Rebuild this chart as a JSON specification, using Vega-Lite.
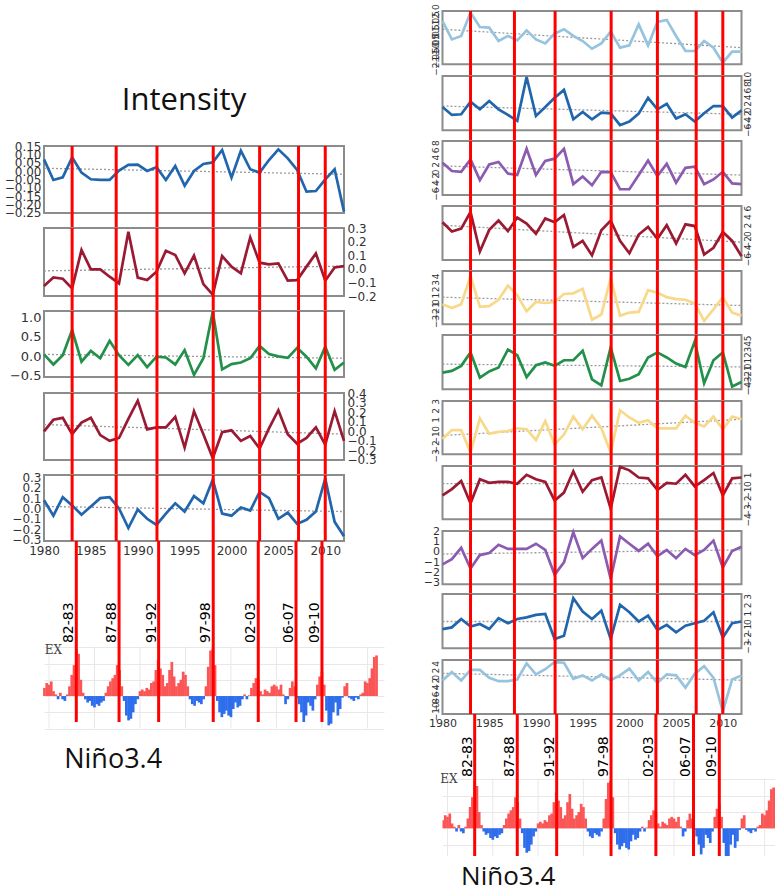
{
"$schema": "https://vega.github.io/schema/vega-lite/v6.json",
"padding": {"left": 4, "top": 3, "right": 0, "bottom": 0},
"autosize": {"type": "pad"},
"config": {"view": {"stroke": null}, "axis": {"labelFont": "DejaVu Sans", "labelColor": "#333333"}},
"datasets": {
"ev": [{"year":1983,"label":"82-83"},{"year":1987.7,"label":"87-88"},{"year":1992.05,"label":"91-92"},{"year":1998.05,"label":"97-98"},{"year":2003,"label":"02-03"},{"year":2007.15,"label":"06-07"},{"year":2010,"label":"09-10"}],
"gy": [{"year":1980},{"year":1985},{"year":1990},{"year":1995},{"year":2000},{"year":2005},{"year":2010},{"year":2015}],
"tr": [
{"year":1980,"L1":0.017,"L2":-0.015,"L3":0.05,"L4":0.07,"L5":0.02,"R1":0.63,"R2":1.2,"R3":1.6,"R4":2.0,"R5":0.7,"R6":0.3,"R7":-0.8,"R8":0.0,"R9":-0.2,"R10":0.0,"R11":1.1},
{"year":2012,"L1":-0.019,"L2":0.02,"L3":-0.05,"L4":-0.03,"L5":-0.03,"R1":-0.75,"R2":-1.3,"R3":-0.9,"R4":-2.0,"R5":-0.6,"R6":-0.2,"R7":1.0,"R8":0.0,"R9":0.2,"R10":0.0,"R11":-0.9}
],
"ts": [
{"year":1980,"L1":0.070,"L2":-0.126,"L3":0.05,"L4":0.0,"L5":0.08,"R1":1.25,"R2":0.9,"R3":2.5,"R4":2.7,"R5":-0.4,"R6":-1.2,"R7":-1.2,"R8":-1.3,"R9":-1.2,"R10":-0.9,"R11":-1.0},
{"year":1981,"L1":-0.053,"L2":-0.063,"L3":-0.21,"L4":0.12,"L5":-0.07,"R1":-0.13,"R2":-1.5,"R3":0.2,"R4":0.5,"R5":-1.0,"R6":-0.9,"R7":-0.2,"R8":-0.6,"R9":-0.7,"R10":-0.7,"R11":1.5},
{"year":1982,"L1":-0.037,"L2":-0.073,"L3":0.03,"L4":0.14,"L5":0.11,"R1":0.13,"R2":-1.3,"R3":0.0,"R4":1.2,"R5":-0.4,"R6":0.0,"R7":-0.2,"R8":0.3,"R9":0.4,"R10":0.3,"R11":-1.0},
{"year":1983,"L1":0.082,"L2":-0.144,"L3":0.68,"L4":-0.03,"L5":0.03,"R1":1.88,"R2":2.5,"R3":3.4,"R4":5.1,"R5":4.0,"R6":2.4,"R7":-2.7,"R8":-2.2,"R9":-1.6,"R10":-0.6,"R11":2.1},
{"year":1984,"L1":-0.009,"L2":0.138,"L3":-0.14,"L4":0.09,"L5":-0.06,"R1":0.8,"R2":0.2,"R3":-2.3,"R4":-4.2,"R5":-0.8,"R6":-2.1,"R7":1.1,"R8":0.5,"R9":-0.3,"R10":-0.3,"R11":2.1},
{"year":1985,"L1":-0.049,"L2":-0.004,"L3":0.14,"L4":0.14,"L5":0.02,"R1":0.75,"R2":2.7,"R3":2.0,"R4":0.9,"R5":-0.7,"R6":-1.0,"R7":-0.6,"R8":0.1,"R9":-0.1,"R10":-0.9,"R11":-0.2},
{"year":1986,"L1":-0.053,"L2":-0.004,"L3":-0.05,"L4":-0.04,"L5":0.10,"R1":-0.25,"R2":0.2,"R3":2.7,"R4":3.1,"R5":0.3,"R6":-0.3,"R7":-0.4,"R8":0.2,"R9":0.7,"R10":0.4,"R11":-1.2},
{"year":1987,"L1":-0.053,"L2":-0.058,"L3":0.40,"L4":-0.10,"L5":0.11,"R1":0.13,"R2":-1.5,"R3":-0.5,"R4":0.6,"R5":2.5,"R6":2.9,"R7":-0.3,"R8":0.2,"R9":0.3,"R10":-0.2,"R11":-1.2},
{"year":1988,"L1":0.003,"L2":-0.107,"L3":0.03,"L4":-0.07,"L5":0.0,"R1":-0.2,"R2":-3.3,"R3":-0.9,"R4":3.8,"R5":1.0,"R6":1.9,"R7":0.0,"R8":0.0,"R9":0.3,"R10":0.3,"R11":-0.7},
{"year":1989,"L1":0.037,"L2":0.273,"L3":-0.22,"L4":0.13,"L5":-0.19,"R1":0.55,"R2":10.0,"R3":6.3,"R4":2.4,"R5":-1.5,"R6":-2.0,"R7":-0.1,"R8":1.0,"R9":0.3,"R10":0.5,"R11":4.0},
{"year":1990,"L1":0.039,"L2":-0.065,"L3":0.03,"L4":0.32,"L5":-0.01,"R1":-0.13,"R2":-1.8,"R3":-0.9,"R4":0.0,"R5":-0.05,"R6":0.1,"R7":-1.3,"R8":0.5,"R9":0.8,"R10":0.8,"R11":0.8},
{"year":1991,"L1":0.001,"L2":-0.083,"L3":-0.28,"L4":0.02,"L5":-0.10,"R1":-0.43,"R2":0.9,"R3":3.0,"R4":3.6,"R5":-0.2,"R6":0.6,"R7":0.8,"R8":0.2,"R9":0.2,"R10":0.9,"R11":2.3},
{"year":1992,"L1":0.023,"L2":-0.021,"L3":-0.01,"L4":0.04,"L5":-0.16,"R1":0.3,"R2":3.7,"R3":3.6,"R4":2.7,"R5":-0.05,"R6":0.0,"R7":-1.8,"R8":-1.9,"R9":-2.2,"R10":-2.1,"R11":4.4},
{"year":1993,"L1":-0.053,"L2":0.133,"L3":-0.03,"L4":0.04,"L5":-0.05,"R1":0.63,"R2":6.1,"R3":6.3,"R4":4.4,"R5":1.2,"R6":1.0,"R7":-0.7,"R8":-1.0,"R9":-1.0,"R10":-1.7,"R11":4.2},
{"year":1994,"L1":0.031,"L2":0.102,"L3":-0.21,"L4":0.15,"L5":0.05,"R1":0.13,"R2":-2.8,"R3":-3.4,"R4":-3.1,"R5":1.3,"R6":1.0,"R7":1.3,"R8":1.4,"R9":1.9,"R10":2.8,"R11":-0.5},
{"year":1995,"L1":-0.087,"L2":-0.033,"L3":0.16,"L4":-0.17,"L5":-0.03,"R1":-0.25,"R2":-0.6,"R3":-1.3,"R4":-1.7,"R5":2.0,"R6":2.7,"R7":-0.1,"R8":-0.9,"R9":-0.6,"R10":1.2,"R11":0.5},
{"year":1996,"L1":0.001,"L2":0.097,"L3":-0.48,"L4":0.21,"L5":0.12,"R1":-0.83,"R2":-2.8,"R3":-3.7,"R4":-5.1,"R5":-2.8,"R6":-2.4,"R7":1.4,"R8":0.4,"R9":0.3,"R10":0.3,"R11":-1.0},
{"year":1997,"L1":0.043,"L2":-0.112,"L3":-0.05,"L4":-0.03,"L5":0.05,"R1":-0.43,"R2":-0.8,"R3":0.0,"R4":0.8,"R5":-2.0,"R6":-3.5,"R7":0.0,"R8":0.7,"R9":1.1,"R10":1.3,"R11":0.8},
{"year":1998,"L1":0.052,"L2":-0.190,"L3":1.15,"L4":-0.28,"L5":0.28,"R1":0.45,"R2":-1.0,"R3":-0.1,"R4":3.1,"R5":3.7,"R6":3.3,"R7":-2.7,"R8":-2.8,"R9":-2.6,"R10":-2.1,"R11":-0.9},
{"year":1999,"L1":0.126,"L2":0.094,"L3":-0.34,"L4":-0.01,"L5":-0.05,"R1":-0.75,"R2":-4.6,"R3":-4.8,"R4":-1.7,"R5":-2.2,"R6":-2.7,"R7":2.0,"R8":1.9,"R9":1.5,"R10":2.0,"R11":0.5},
{"year":2000,"L1":-0.039,"L2":0.016,"L3":-0.20,"L4":0.01,"L5":-0.07,"R1":-0.58,"R2":-3.5,"R3":-4.8,"R4":-4.6,"R5":-1.7,"R6":-2.3,"R7":1.2,"R8":1.5,"R9":0.8,"R10":1.1,"R11":2.5},
{"year":2001,"L1":0.122,"L2":-0.033,"L3":-0.16,"L4":-0.10,"L5":0.01,"R1":1.0,"R2":-1.1,"R3":-0.9,"R4":-0.2,"R5":-1.6,"R6":-1.5,"R7":0.6,"R8":0.7,"R9":0.1,"R10":0.0,"R11":-1.0},
{"year":2002,"L1":0.011,"L2":0.231,"L3":-0.05,"L4":-0.05,"L5":-0.02,"R1":-0.58,"R2":3.7,"R3":3.1,"R4":1.6,"R5":1.8,"R6":1.5,"R7":0.9,"R8":0.6,"R9":0.8,"R10":0.7,"R11":1.5},
{"year":2003,"L1":-0.009,"L2":0.045,"L3":0.27,"L4":-0.18,"L5":0.16,"R1":1.18,"R2":0.2,"R3":-1.2,"R4":-1.2,"R5":1.4,"R6":2.4,"R7":0.0,"R8":-0.7,"R9":-0.4,"R10":-1.0,"R11":-1.7},
{"year":2004,"L1":0.066,"L2":0.033,"L3":0.06,"L4":0.03,"L5":0.10,"R1":1.33,"R2":1.9,"R3":2.2,"R4":2.0,"R5":0.7,"R6":1.5,"R7":0.0,"R8":0.1,"R9":0.2,"R10":-0.4,"R11":0.8},
{"year":2005,"L1":0.130,"L2":0.040,"L3":0.0,"L4":0.22,"L5":-0.10,"R1":0.13,"R2":-2.6,"R3":-3.0,"R4":-2.3,"R5":0.4,"R6":0.4,"R7":0.0,"R8":0.0,"R9":-0.6,"R10":-1.3,"R11":0.5},
{"year":2006,"L1":0.076,"L2":-0.087,"L3":-0.04,"L4":-0.03,"L5":-0.04,"R1":-1.0,"R2":-1.3,"R3":1.1,"R4":2.2,"R5":0.3,"R6":-0.2,"R7":1.4,"R8":1.0,"R9":0.3,"R10":-0.5,"R11":-3.1},
{"year":2007,"L1":0.007,"L2":-0.083,"L3":0.22,"L4":-0.13,"L5":-0.15,"R1":-1.0,"R2":-3.5,"R3":1.4,"R4":1.8,"R5":-0.3,"R6":4.4,"R7":0.6,"R8":-0.3,"R9":-0.3,"R10":-0.2,"R11":1.0},
{"year":2008,"L1":-0.123,"L2":0.016,"L3":-0.01,"L4":-0.07,"L5":-0.11,"R1":-0.25,"R2":-1.0,"R3":-3.4,"R4":-4.9,"R5":-3.0,"R6":-3.1,"R7":0.2,"R8":0.4,"R9":0.2,"R10":0.1,"R11":3.2},
{"year":2009,"L1":-0.119,"L2":0.113,"L3":-0.31,"L4":0.04,"L5":-0.03,"R1":-0.75,"R2":1.2,"R3":-2.1,"R4":-3.3,"R5":-1.2,"R6":1.0,"R7":1.3,"R8":1.2,"R9":1.1,"R10":1.1,"R11":-0.2},
{"year":2010,"L1":-0.049,"L2":-0.087,"L3":0.25,"L4":-0.14,"L5":0.29,"R1":-1.88,"R2":1.2,"R3":0.0,"R4":0.4,"R5":0.7,"R6":2.4,"R7":-0.1,"R8":-1.3,"R9":-1.5,"R10":-1.9,"R11":-10.0},
{"year":2011,"L1":0.011,"L2":0.010,"L3":-0.35,"L4":0.21,"L5":-0.13,"R1":-1.05,"R2":-2.3,"R3":-3.2,"R4":-1.7,"R5":-1.7,"R6":-3.7,"R7":1.3,"R8":0.6,"R9":0.1,"R10":-0.2,"R11":-0.7},
{"year":2012,"L1":-0.242,"L2":0.020,"L3":-0.16,"L4":-0.10,"L5":-0.27,"R1":-1.05,"R2":-0.1,"R3":-3.4,"R4":-5.3,"R5":-2.2,"R6":-2.9,"R7":1.0,"R8":0.7,"R9":0.5,"R10":0.0,"R11":0.5}
],
"nino": [
{"year":1979.5,"v":0.5},{"year":1979.75,"v":0.8},{"year":1980,"v":0.7},{"year":1980.25,"v":0.9},{"year":1980.5,"v":0.3},{"year":1980.75,"v":0.1},
{"year":1981,"v":-0.2},{"year":1981.25,"v":0.2},{"year":1981.5,"v":-0.2},{"year":1981.75,"v":-0.3},
{"year":1982,"v":0.1},{"year":1982.25,"v":0.6},{"year":1982.5,"v":1.3},{"year":1982.75,"v":1.9},
{"year":1983,"v":2.9},{"year":1983.25,"v":2.6},{"year":1983.5,"v":1.0},{"year":1983.75,"v":0.2},
{"year":1984,"v":-0.2},{"year":1984.25,"v":-0.4},{"year":1984.5,"v":-0.3},{"year":1984.75,"v":-0.6},
{"year":1985,"v":-0.7},{"year":1985.25,"v":-0.5},{"year":1985.5,"v":-0.6},{"year":1985.75,"v":-0.4},
{"year":1986,"v":-0.3},{"year":1986.25,"v":0.2},{"year":1986.5,"v":0.6},{"year":1986.75,"v":0.9},
{"year":1987,"v":1.1},{"year":1987.25,"v":1.3},{"year":1987.5,"v":1.9},{"year":1987.75,"v":1.6},
{"year":1988,"v":0.6},{"year":1988.25,"v":-0.3},{"year":1988.5,"v":-1.2},{"year":1988.75,"v":-1.5},
{"year":1989,"v":-1.4},{"year":1989.25,"v":-1.0},{"year":1989.5,"v":-0.5},{"year":1989.75,"v":-0.2},
{"year":1990,"v":0.3},{"year":1990.25,"v":0.4},{"year":1990.5,"v":0.3},{"year":1990.75,"v":0.5},
{"year":1991,"v":0.4},{"year":1991.25,"v":0.8},{"year":1991.5,"v":0.9},{"year":1991.75,"v":1.6},
{"year":1992,"v":2.2},{"year":1992.25,"v":1.7},{"year":1992.5,"v":1.3},{"year":1992.75,"v":0.6},
{"year":1993,"v":0.8},{"year":1993.25,"v":1.6},{"year":1993.5,"v":2.1},{"year":1993.75,"v":1.2},
{"year":1994,"v":0.6},{"year":1994.25,"v":0.8},{"year":1994.5,"v":1.0},{"year":1994.75,"v":1.5},
{"year":1995,"v":1.3},{"year":1995.25,"v":0.6},{"year":1995.5,"v":-0.2},{"year":1995.75,"v":-0.5},
{"year":1996,"v":-0.6},{"year":1996.25,"v":-0.3},{"year":1996.5,"v":-0.4},{"year":1996.75,"v":-0.5},
{"year":1997,"v":-0.2},{"year":1997.25,"v":0.6},{"year":1997.5,"v":1.8},{"year":1997.75,"v":2.8},
{"year":1998,"v":2.9},{"year":1998.25,"v":1.9},{"year":1998.5,"v":-0.3},{"year":1998.75,"v":-1.0},
{"year":1999,"v":-1.3},{"year":1999.25,"v":-1.1},{"year":1999.5,"v":-0.9},{"year":1999.75,"v":-1.2},
{"year":2000,"v":-1.3},{"year":2000.25,"v":-0.8},{"year":2000.5,"v":-0.4},{"year":2000.75,"v":-0.7},
{"year":2001,"v":-0.6},{"year":2001.25,"v":-0.2},{"year":2001.5,"v":0.1},{"year":2001.75,"v":-0.2},
{"year":2002,"v":0.05},{"year":2002.25,"v":0.5},{"year":2002.5,"v":0.8},{"year":2002.75,"v":1.1},
{"year":2003,"v":1.0},{"year":2003.25,"v":0.3},{"year":2003.5,"v":0.1},{"year":2003.75,"v":0.4},
{"year":2004,"v":0.3},{"year":2004.25,"v":0.2},{"year":2004.5,"v":0.6},{"year":2004.75,"v":0.7},
{"year":2005,"v":0.6},{"year":2005.25,"v":0.4},{"year":2005.5,"v":0.7},{"year":2005.75,"v":0.1},
{"year":2006,"v":-0.5},{"year":2006.25,"v":-0.2},{"year":2006.5,"v":0.5},{"year":2006.75,"v":0.9},
{"year":2007,"v":0.6},{"year":2007.25,"v":-0.1},{"year":2007.5,"v":-0.5},{"year":2007.75,"v":-1.0},
{"year":2008,"v":-1.6},{"year":2008.25,"v":-1.2},{"year":2008.5,"v":-0.4},{"year":2008.75,"v":-0.6},
{"year":2009,"v":-0.9},{"year":2009.25,"v":-0.2},{"year":2009.5,"v":0.7},{"year":2009.75,"v":1.2},
{"year":2010,"v":1.5},{"year":2010.25,"v":0.7},{"year":2010.5,"v":-0.9},{"year":2010.75,"v":-1.8},
{"year":2011,"v":-1.7},{"year":2011.25,"v":-1.0},{"year":2011.5,"v":-0.4},{"year":2011.75,"v":-1.2},
{"year":2012,"v":-0.8},{"year":2012.25,"v":-0.1},{"year":2012.5,"v":0.6},{"year":2012.75,"v":0.8},
{"year":2013,"v":-0.1},{"year":2013.25,"v":-0.2},{"year":2013.5,"v":-0.3},{"year":2013.75,"v":-0.1},
{"year":2014,"v":-0.2},{"year":2014.25,"v":0.1},{"year":2014.5,"v":0.2},{"year":2014.75,"v":0.9},
{"year":2015,"v":0.8},{"year":2015.25,"v":1.1},{"year":2015.5,"v":1.7},{"year":2015.75,"v":2.4},{"year":2016,"v":2.5}
]
},
"spacing": 38.5,
"hconcat": [
{
"spacing": 0,
"bounds": "flush",
"vconcat": [
{"width": 300, "height": 135, "data": {"values": [{"t": "Intensity"}]},
 "mark": {"type": "text", "font": "Open Sans", "fontSize": 31, "baseline": "alphabetic", "dx": -10, "dy": 31.5, "color": "#111111"},
 "encoding": {"text": {"field": "t"}}},
{"width": 300, "height": 82, "layer": [
 {"data": {"values": [{"year": 1980}]}, "mark": {"type": "rect", "fillOpacity": 0, "stroke": "#8c8c8c", "strokeWidth": 2},
  "encoding": {"x": {"datum": 1980, "type": "quantitative", "scale": {"domain": [1980, 2012], "nice": false}, "axis": null}, "x2": {"datum": 2012},
   "y": {"datum": 0.15, "type": "quantitative", "scale": {"domain": [-0.34, 0.15], "nice": false, "zero": false}, "axis": {"orient": "left", "values": [0.15, 0.1, 0.05, 0, -0.05, -0.1, -0.15, -0.2, -0.25], "format": ".2f", "title": null, "domain": false, "ticks": false, "grid": false, "labelFontSize": 12, "labelPadding": 3, "labelOverlap": false, "labelFlush": false, "labelBound": false}}, "y2": {"datum": -0.25}}},
 {"data": {"name": "tr"}, "mark": {"type": "line", "stroke": "#9a9a9a", "strokeDash": [2, 2], "strokeWidth": 1.3},
  "encoding": {"x": {"field": "year", "type": "quantitative", "scale": {"domain": [1980, 2012], "nice": false}, "axis": null},
   "y": {"field": "L1", "type": "quantitative", "scale": {"domain": [-0.34, 0.15], "nice": false, "zero": false}, "axis": {"orient": "left", "values": [0.15, 0.1, 0.05, 0, -0.05, -0.1, -0.15, -0.2, -0.25], "format": ".2f", "title": null, "domain": false, "ticks": false, "grid": false, "labelFontSize": 12, "labelPadding": 3, "labelOverlap": false, "labelFlush": false, "labelBound": false}}}},
 {"data": {"name": "ts"}, "mark": {"type": "line", "stroke": "#2166ac", "strokeWidth": 2.7},
  "encoding": {"x": {"field": "year", "type": "quantitative", "scale": {"domain": [1980, 2012], "nice": false}, "axis": null},
   "y": {"field": "L1", "type": "quantitative", "scale": {"domain": [-0.34, 0.15], "nice": false, "zero": false}, "axis": {"orient": "left", "values": [0.15, 0.1, 0.05, 0, -0.05, -0.1, -0.15, -0.2, -0.25], "format": ".2f", "title": null, "domain": false, "ticks": false, "grid": false, "labelFontSize": 12, "labelPadding": 3, "labelOverlap": false, "labelFlush": false, "labelBound": false}}}},
 {"data": {"name": "ev"}, "mark": {"type": "rule", "stroke": "#ff0000", "strokeWidth": 3},
  "encoding": {"x": {"field": "year", "type": "quantitative", "scale": {"domain": [1980, 2012], "nice": false}, "axis": null}}}
]},
{"width": 300, "height": 83, "layer": [
 {"data": {"values": [{"year": 1980}]}, "mark": {"type": "rect", "fillOpacity": 0, "stroke": "#8c8c8c", "strokeWidth": 2},
  "encoding": {"x": {"datum": 1980, "type": "quantitative", "scale": {"domain": [1980, 2012], "nice": false}, "axis": null}, "x2": {"datum": 2012},
   "y": {"datum": 0.3, "type": "quantitative", "scale": {"domain": [-0.31, 0.3], "nice": false, "zero": false}, "axis": {"orient": "right", "values": [0.3, 0.2, 0.1, 0, -0.1, -0.2], "format": ".1f", "title": null, "domain": false, "ticks": false, "grid": false, "labelFontSize": 12, "labelPadding": 3, "labelOverlap": false, "labelFlush": false, "labelBound": false}}, "y2": {"datum": -0.2}}},
 {"data": {"name": "tr"}, "mark": {"type": "line", "stroke": "#9a9a9a", "strokeDash": [2, 2], "strokeWidth": 1.3},
  "encoding": {"x": {"field": "year", "type": "quantitative", "scale": {"domain": [1980, 2012], "nice": false}, "axis": null},
   "y": {"field": "L2", "type": "quantitative", "scale": {"domain": [-0.31, 0.3], "nice": false, "zero": false}, "axis": {"orient": "right", "values": [0.3, 0.2, 0.1, 0, -0.1, -0.2], "format": ".1f", "title": null, "domain": false, "ticks": false, "grid": false, "labelFontSize": 12, "labelPadding": 3, "labelOverlap": false, "labelFlush": false, "labelBound": false}}}},
 {"data": {"name": "ts"}, "mark": {"type": "line", "stroke": "#9b1a33", "strokeWidth": 2.7},
  "encoding": {"x": {"field": "year", "type": "quantitative", "scale": {"domain": [1980, 2012], "nice": false}, "axis": null},
   "y": {"field": "L2", "type": "quantitative", "scale": {"domain": [-0.31, 0.3], "nice": false, "zero": false}, "axis": {"orient": "right", "values": [0.3, 0.2, 0.1, 0, -0.1, -0.2], "format": ".1f", "title": null, "domain": false, "ticks": false, "grid": false, "labelFontSize": 12, "labelPadding": 3, "labelOverlap": false, "labelFlush": false, "labelBound": false}}}},
 {"data": {"name": "ev"}, "mark": {"type": "rule", "stroke": "#ff0000", "strokeWidth": 3},
  "encoding": {"x": {"field": "year", "type": "quantitative", "scale": {"domain": [1980, 2012], "nice": false}, "axis": null}}}
]},
{"width": 300, "height": 82, "layer": [
 {"data": {"values": [{"year": 1980}]}, "mark": {"type": "rect", "fillOpacity": 0, "stroke": "#8c8c8c", "strokeWidth": 2},
  "encoding": {"x": {"datum": 1980, "type": "quantitative", "scale": {"domain": [1980, 2012], "nice": false}, "axis": null}, "x2": {"datum": 2012},
   "y": {"datum": 1.171, "type": "quantitative", "scale": {"domain": [-0.948, 1.171], "nice": false, "zero": false}, "axis": {"orient": "left", "values": [1.0, 0.5, 0, -0.5], "format": ".1f", "title": null, "domain": false, "ticks": false, "grid": false, "labelFontSize": 13, "labelPadding": 3, "labelOverlap": false, "labelFlush": false, "labelBound": false}}, "y2": {"datum": -0.535}}},
 {"data": {"name": "tr"}, "mark": {"type": "line", "stroke": "#9a9a9a", "strokeDash": [2, 2], "strokeWidth": 1.3},
  "encoding": {"x": {"field": "year", "type": "quantitative", "scale": {"domain": [1980, 2012], "nice": false}, "axis": null},
   "y": {"field": "L3", "type": "quantitative", "scale": {"domain": [-0.948, 1.171], "nice": false, "zero": false}, "axis": {"orient": "left", "values": [1.0, 0.5, 0, -0.5], "format": ".1f", "title": null, "domain": false, "ticks": false, "grid": false, "labelFontSize": 13, "labelPadding": 3, "labelOverlap": false, "labelFlush": false, "labelBound": false}}}},
 {"data": {"name": "ts"}, "mark": {"type": "line", "stroke": "#23904a", "strokeWidth": 2.7},
  "encoding": {"x": {"field": "year", "type": "quantitative", "scale": {"domain": [1980, 2012], "nice": false}, "axis": null},
   "y": {"field": "L3", "type": "quantitative", "scale": {"domain": [-0.948, 1.171], "nice": false, "zero": false}, "axis": {"orient": "left", "values": [1.0, 0.5, 0, -0.5], "format": ".1f", "title": null, "domain": false, "ticks": false, "grid": false, "labelFontSize": 13, "labelPadding": 3, "labelOverlap": false, "labelFlush": false, "labelBound": false}}}},
 {"data": {"name": "ev"}, "mark": {"type": "rule", "stroke": "#ff0000", "strokeWidth": 3},
  "encoding": {"x": {"field": "year", "type": "quantitative", "scale": {"domain": [1980, 2012], "nice": false}, "axis": null}}}
]},
{"width": 300, "height": 82, "layer": [
 {"data": {"values": [{"year": 1980}]}, "mark": {"type": "rect", "fillOpacity": 0, "stroke": "#8c8c8c", "strokeWidth": 2},
  "encoding": {"x": {"datum": 1980, "type": "quantitative", "scale": {"domain": [1980, 2012], "nice": false}, "axis": null}, "x2": {"datum": 2012},
   "y": {"datum": 0.4, "type": "quantitative", "scale": {"domain": [-0.457, 0.4], "nice": false, "zero": false}, "axis": {"orient": "right", "values": [0.4, 0.3, 0.2, 0.1, 0, -0.1, -0.2, -0.3], "format": ".1f", "title": null, "domain": false, "ticks": false, "grid": false, "labelFontSize": 12, "labelPadding": 3, "labelOverlap": false, "labelFlush": false, "labelBound": false}}, "y2": {"datum": -0.3}}},
 {"data": {"name": "tr"}, "mark": {"type": "line", "stroke": "#9a9a9a", "strokeDash": [2, 2], "strokeWidth": 1.3},
  "encoding": {"x": {"field": "year", "type": "quantitative", "scale": {"domain": [1980, 2012], "nice": false}, "axis": null},
   "y": {"field": "L4", "type": "quantitative", "scale": {"domain": [-0.457, 0.4], "nice": false, "zero": false}, "axis": {"orient": "right", "values": [0.4, 0.3, 0.2, 0.1, 0, -0.1, -0.2, -0.3], "format": ".1f", "title": null, "domain": false, "ticks": false, "grid": false, "labelFontSize": 12, "labelPadding": 3, "labelOverlap": false, "labelFlush": false, "labelBound": false}}}},
 {"data": {"name": "ts"}, "mark": {"type": "line", "stroke": "#9b1a33", "strokeWidth": 2.7},
  "encoding": {"x": {"field": "year", "type": "quantitative", "scale": {"domain": [1980, 2012], "nice": false}, "axis": null},
   "y": {"field": "L4", "type": "quantitative", "scale": {"domain": [-0.457, 0.4], "nice": false, "zero": false}, "axis": {"orient": "right", "values": [0.4, 0.3, 0.2, 0.1, 0, -0.1, -0.2, -0.3], "format": ".1f", "title": null, "domain": false, "ticks": false, "grid": false, "labelFontSize": 12, "labelPadding": 3, "labelOverlap": false, "labelFlush": false, "labelBound": false}}}},
 {"data": {"name": "ev"}, "mark": {"type": "rule", "stroke": "#ff0000", "strokeWidth": 3},
  "encoding": {"x": {"field": "year", "type": "quantitative", "scale": {"domain": [1980, 2012], "nice": false}, "axis": null}}}
]},
{"width": 300, "height": 66, "layer": [
 {"data": {"values": [{"year": 1980}]}, "mark": {"type": "rect", "fillOpacity": 0, "stroke": "#8c8c8c", "strokeWidth": 2},
  "encoding": {"x": {"datum": 1980, "type": "quantitative", "scale": {"domain": [1980, 2012], "nice": false}, "axis": {"values": [1980, 1985, 1990, 1995, 2000, 2005, 2010], "format": "d", "title": null, "domain": false, "ticks": false, "grid": false, "labelFontSize": 12, "labelPadding": 4, "labelFlush": false, "labelOverlap": false}}, "x2": {"datum": 2012},
   "y": {"datum": 0.325, "type": "quantitative", "scale": {"domain": [-0.316, 0.325], "nice": false, "zero": false}, "axis": {"orient": "left", "values": [0.3, 0.2, 0.1, 0, -0.1, -0.2, -0.3], "format": ".1f", "title": null, "domain": false, "ticks": false, "grid": false, "labelFontSize": 12, "labelPadding": 3, "labelOverlap": false, "labelFlush": false, "labelBound": false}}, "y2": {"datum": -0.316}}},
 {"data": {"name": "tr"}, "mark": {"type": "line", "stroke": "#9a9a9a", "strokeDash": [2, 2], "strokeWidth": 1.3},
  "encoding": {"x": {"field": "year", "type": "quantitative", "scale": {"domain": [1980, 2012], "nice": false}, "axis": {"values": [1980, 1985, 1990, 1995, 2000, 2005, 2010], "format": "d", "title": null, "domain": false, "ticks": false, "grid": false, "labelFontSize": 12, "labelPadding": 4, "labelFlush": false, "labelOverlap": false}},
   "y": {"field": "L5", "type": "quantitative", "scale": {"domain": [-0.316, 0.325], "nice": false, "zero": false}, "axis": {"orient": "left", "values": [0.3, 0.2, 0.1, 0, -0.1, -0.2, -0.3], "format": ".1f", "title": null, "domain": false, "ticks": false, "grid": false, "labelFontSize": 12, "labelPadding": 3, "labelOverlap": false, "labelFlush": false, "labelBound": false}}}},
 {"data": {"name": "ts"}, "mark": {"type": "line", "stroke": "#2166ac", "strokeWidth": 2.7},
  "encoding": {"x": {"field": "year", "type": "quantitative", "scale": {"domain": [1980, 2012], "nice": false}, "axis": {"values": [1980, 1985, 1990, 1995, 2000, 2005, 2010], "format": "d", "title": null, "domain": false, "ticks": false, "grid": false, "labelFontSize": 12, "labelPadding": 4, "labelFlush": false, "labelOverlap": false}},
   "y": {"field": "L5", "type": "quantitative", "scale": {"domain": [-0.316, 0.325], "nice": false, "zero": false}, "axis": {"orient": "left", "values": [0.3, 0.2, 0.1, 0, -0.1, -0.2, -0.3], "format": ".1f", "title": null, "domain": false, "ticks": false, "grid": false, "labelFontSize": 12, "labelPadding": 3, "labelOverlap": false, "labelFlush": false, "labelBound": false}}}},
 {"data": {"name": "ev"}, "mark": {"type": "rule", "stroke": "#ff0000", "strokeWidth": 3},
  "encoding": {"x": {"field": "year", "type": "quantitative", "scale": {"domain": [1980, 2012], "nice": false}, "axis": {"values": [1980, 1985, 1990, 1995, 2000, 2005, 2010], "format": "d", "title": null, "domain": false, "ticks": false, "grid": false, "labelFontSize": 12, "labelPadding": 4, "labelFlush": false, "labelOverlap": false}}}}
]},
{"width": 340, "height": 189, "layer": [
 {"data": {"name": "gy"}, "mark": {"type": "rule", "stroke": "#e8e8e8", "strokeWidth": 1},
  "encoding": {"x": {"field": "year", "type": "quantitative", "scale": {"domain": [1980, 2016.27], "nice": false}, "axis": null},
   "y": {"datum": 3.05, "type": "quantitative", "scale": {"domain": [-2.09, 9.54], "nice": false, "zero": false}, "axis": {"values": [-2, -1, 0, 1, 2, 3], "grid": true, "gridColor": "#e8e8e8", "labels": false, "ticks": false, "domain": false, "title": null}}, "y2": {"datum": -2}}},
 {"data": {"name": "nino"}, "mark": {"type": "bar", "width": 2.7},
  "encoding": {"x": {"field": "year", "type": "quantitative", "scale": {"domain": [1980, 2016.27], "nice": false}, "axis": null},
   "y": {"field": "v", "type": "quantitative", "scale": {"domain": [-2.09, 9.54], "nice": false, "zero": false}, "axis": {"values": [-2, -1, 0, 1, 2, 3], "grid": true, "gridColor": "#e8e8e8", "labels": false, "ticks": false, "domain": false, "title": null}}, "y2": {"datum": 0},
   "color": {"condition": {"test": "datum.v > 0", "value": "#fb5656"}, "value": "#2e6deb"}}},
 {"data": {"name": "ev"}, "mark": {"type": "rule", "stroke": "#ff0000", "strokeWidth": 3},
  "encoding": {"x": {"field": "year", "type": "quantitative", "scale": {"domain": [1980, 2016.27], "nice": false}, "axis": null},
   "y": {"datum": 9.54, "type": "quantitative", "scale": {"domain": [-2.09, 9.54], "nice": false, "zero": false}, "axis": {"values": [-2, -1, 0, 1, 2, 3], "grid": true, "gridColor": "#e8e8e8", "labels": false, "ticks": false, "domain": false, "title": null}}, "y2": {"datum": -1.6}}},
 {"data": {"name": "ev"}, "mark": {"type": "text", "angle": 270, "align": "left", "baseline": "bottom", "fontSize": 14, "font": "DejaVu Sans", "color": "#000000"},
  "encoding": {"x": {"field": "year", "type": "quantitative", "scale": {"domain": [1980, 2016.27], "nice": false}, "axis": null},
   "y": {"datum": 3.26, "type": "quantitative", "scale": {"domain": [-2.09, 9.54], "nice": false, "zero": false}, "axis": {"values": [-2, -1, 0, 1, 2, 3], "grid": true, "gridColor": "#e8e8e8", "labels": false, "ticks": false, "domain": false, "title": null}}, "text": {"field": "label"}}},
 {"data": {"values": [{"s": "EX"}]}, "mark": {"type": "text", "align": "left", "baseline": "middle", "fontSize": 12, "font": "DejaVu Serif", "color": "#444444"},
  "encoding": {"x": {"datum": 1979.54, "type": "quantitative", "scale": {"domain": [1980, 2016.27], "nice": false}, "axis": null},
   "y": {"datum": 2.85, "type": "quantitative", "scale": {"domain": [-2.09, 9.54], "nice": false, "zero": false}, "axis": {"values": [-2, -1, 0, 1, 2, 3], "grid": true, "gridColor": "#e8e8e8", "labels": false, "ticks": false, "domain": false, "title": null}}, "text": {"field": "s"}}},
 {"data": {"values": [{"s": "Niño3.4"}]}, "mark": {"type": "text", "align": "left", "baseline": "alphabetic", "fontSize": 27, "font": "Open Sans", "color": "#111111"},
  "encoding": {"x": {"datum": 1981.67, "type": "quantitative", "scale": {"domain": [1980, 2016.27], "nice": false}, "axis": null},
   "y": {"datum": -4.43, "type": "quantitative", "scale": {"domain": [-2.09, 9.54], "nice": false, "zero": false}, "axis": {"values": [-2, -1, 0, 1, 2, 3], "grid": true, "gridColor": "#e8e8e8", "labels": false, "ticks": false, "domain": false, "title": null}}, "text": {"field": "s"}}}
]}
]
},
{
"spacing": 0,
"bounds": "flush",
"vconcat": [
{"width": 299, "height": 65, "layer": [
 {"data": {"values": [{"year": 1980}]}, "mark": {"type": "rect", "fillOpacity": 0, "stroke": "#8c8c8c", "strokeWidth": 2},
  "encoding": {"x": {"datum": 1980, "type": "quantitative", "scale": {"domain": [1980, 2012], "nice": false}, "axis": null}, "x2": {"datum": 2012},
   "y": {"datum": 2.0, "type": "quantitative", "scale": {"domain": [-2.875, 2.0], "nice": false, "zero": false}, "axis": {"orient": "left", "values": [2, 1.5, 1, 0.5, 0, -0.5, -1, -1.5, -2], "format": ".1f", "title": null, "domain": false, "ticks": false, "grid": false, "labelFontSize": 9, "labelPadding": 2, "labelOverlap": false, "labelFlush": false, "labelBound": false, "labelAngle": 270, "labelAlign": "center", "labelBaseline": "bottom"}}, "y2": {"datum": -2.0}}},
 {"data": {"name": "tr"}, "mark": {"type": "line", "stroke": "#9a9a9a", "strokeDash": [2, 2], "strokeWidth": 1.3},
  "encoding": {"x": {"field": "year", "type": "quantitative", "scale": {"domain": [1980, 2012], "nice": false}, "axis": null},
   "y": {"field": "R1", "type": "quantitative", "scale": {"domain": [-2.875, 2.0], "nice": false, "zero": false}, "axis": {"orient": "left", "values": [2, 1.5, 1, 0.5, 0, -0.5, -1, -1.5, -2], "format": ".1f", "title": null, "domain": false, "ticks": false, "grid": false, "labelFontSize": 9, "labelPadding": 2, "labelOverlap": false, "labelFlush": false, "labelBound": false, "labelAngle": 270, "labelAlign": "center", "labelBaseline": "bottom"}}}},
 {"data": {"name": "ts"}, "mark": {"type": "line", "stroke": "#96c4df", "strokeWidth": 2.7},
  "encoding": {"x": {"field": "year", "type": "quantitative", "scale": {"domain": [1980, 2012], "nice": false}, "axis": null},
   "y": {"field": "R1", "type": "quantitative", "scale": {"domain": [-2.875, 2.0], "nice": false, "zero": false}, "axis": {"orient": "left", "values": [2, 1.5, 1, 0.5, 0, -0.5, -1, -1.5, -2], "format": ".1f", "title": null, "domain": false, "ticks": false, "grid": false, "labelFontSize": 9, "labelPadding": 2, "labelOverlap": false, "labelFlush": false, "labelBound": false, "labelAngle": 270, "labelAlign": "center", "labelBaseline": "bottom"}}}},
 {"data": {"name": "ev"}, "mark": {"type": "rule", "stroke": "#ff0000", "strokeWidth": 3},
  "encoding": {"x": {"field": "year", "type": "quantitative", "scale": {"domain": [1980, 2012], "nice": false}, "axis": null}}}
]},
{"width": 299, "height": 65, "layer": [
 {"data": {"values": [{"year": 1980}]}, "mark": {"type": "rect", "fillOpacity": 0, "stroke": "#8c8c8c", "strokeWidth": 2},
  "encoding": {"x": {"datum": 1980, "type": "quantitative", "scale": {"domain": [1980, 2012], "nice": false}, "axis": null}, "x2": {"datum": 2012},
   "y": {"datum": 10.3, "type": "quantitative", "scale": {"domain": [-9.39, 10.3], "nice": false, "zero": false}, "axis": {"orient": "right", "values": [10, 8, 6, 4, 2, 0, -2, -4, -6], "format": "d", "title": null, "domain": false, "ticks": false, "grid": false, "labelFontSize": 9, "labelPadding": 2, "labelOverlap": false, "labelFlush": false, "labelBound": false, "labelAngle": 270, "labelAlign": "center", "labelBaseline": "top"}}, "y2": {"datum": -6.15}}},
 {"data": {"name": "tr"}, "mark": {"type": "line", "stroke": "#9a9a9a", "strokeDash": [2, 2], "strokeWidth": 1.3},
  "encoding": {"x": {"field": "year", "type": "quantitative", "scale": {"domain": [1980, 2012], "nice": false}, "axis": null},
   "y": {"field": "R2", "type": "quantitative", "scale": {"domain": [-9.39, 10.3], "nice": false, "zero": false}, "axis": {"orient": "right", "values": [10, 8, 6, 4, 2, 0, -2, -4, -6], "format": "d", "title": null, "domain": false, "ticks": false, "grid": false, "labelFontSize": 9, "labelPadding": 2, "labelOverlap": false, "labelFlush": false, "labelBound": false, "labelAngle": 270, "labelAlign": "center", "labelBaseline": "top"}}}},
 {"data": {"name": "ts"}, "mark": {"type": "line", "stroke": "#2166ac", "strokeWidth": 2.7},
  "encoding": {"x": {"field": "year", "type": "quantitative", "scale": {"domain": [1980, 2012], "nice": false}, "axis": null},
   "y": {"field": "R2", "type": "quantitative", "scale": {"domain": [-9.39, 10.3], "nice": false, "zero": false}, "axis": {"orient": "right", "values": [10, 8, 6, 4, 2, 0, -2, -4, -6], "format": "d", "title": null, "domain": false, "ticks": false, "grid": false, "labelFontSize": 9, "labelPadding": 2, "labelOverlap": false, "labelFlush": false, "labelBound": false, "labelAngle": 270, "labelAlign": "center", "labelBaseline": "top"}}}},
 {"data": {"name": "ev"}, "mark": {"type": "rule", "stroke": "#ff0000", "strokeWidth": 3},
  "encoding": {"x": {"field": "year", "type": "quantitative", "scale": {"domain": [1980, 2012], "nice": false}, "axis": null}}}
]},
{"width": 299, "height": 65, "layer": [
 {"data": {"values": [{"year": 1980}]}, "mark": {"type": "rect", "fillOpacity": 0, "stroke": "#8c8c8c", "strokeWidth": 2},
  "encoding": {"x": {"datum": 1980, "type": "quantitative", "scale": {"domain": [1980, 2012], "nice": false}, "axis": null}, "x2": {"datum": 2012},
   "y": {"datum": 8.46, "type": "quantitative", "scale": {"domain": [-9.4, 8.46], "nice": false, "zero": false}, "axis": {"orient": "left", "values": [8, 6, 4, 2, 0, -2, -4, -6], "format": "d", "title": null, "domain": false, "ticks": false, "grid": false, "labelFontSize": 9, "labelPadding": 2, "labelOverlap": false, "labelFlush": false, "labelBound": false, "labelAngle": 270, "labelAlign": "center", "labelBaseline": "bottom"}}, "y2": {"datum": -6.37}}},
 {"data": {"name": "tr"}, "mark": {"type": "line", "stroke": "#9a9a9a", "strokeDash": [2, 2], "strokeWidth": 1.3},
  "encoding": {"x": {"field": "year", "type": "quantitative", "scale": {"domain": [1980, 2012], "nice": false}, "axis": null},
   "y": {"field": "R3", "type": "quantitative", "scale": {"domain": [-9.4, 8.46], "nice": false, "zero": false}, "axis": {"orient": "left", "values": [8, 6, 4, 2, 0, -2, -4, -6], "format": "d", "title": null, "domain": false, "ticks": false, "grid": false, "labelFontSize": 9, "labelPadding": 2, "labelOverlap": false, "labelFlush": false, "labelBound": false, "labelAngle": 270, "labelAlign": "center", "labelBaseline": "bottom"}}}},
 {"data": {"name": "ts"}, "mark": {"type": "line", "stroke": "#8a5bb0", "strokeWidth": 2.7},
  "encoding": {"x": {"field": "year", "type": "quantitative", "scale": {"domain": [1980, 2012], "nice": false}, "axis": null},
   "y": {"field": "R3", "type": "quantitative", "scale": {"domain": [-9.4, 8.46], "nice": false, "zero": false}, "axis": {"orient": "left", "values": [8, 6, 4, 2, 0, -2, -4, -6], "format": "d", "title": null, "domain": false, "ticks": false, "grid": false, "labelFontSize": 9, "labelPadding": 2, "labelOverlap": false, "labelFlush": false, "labelBound": false, "labelAngle": 270, "labelAlign": "center", "labelBaseline": "bottom"}}}},
 {"data": {"name": "ev"}, "mark": {"type": "rule", "stroke": "#ff0000", "strokeWidth": 3},
  "encoding": {"x": {"field": "year", "type": "quantitative", "scale": {"domain": [1980, 2012], "nice": false}, "axis": null}}}
]},
{"width": 299, "height": 65, "layer": [
 {"data": {"values": [{"year": 1980}]}, "mark": {"type": "rect", "fillOpacity": 0, "stroke": "#8c8c8c", "strokeWidth": 2},
  "encoding": {"x": {"datum": 1980, "type": "quantitative", "scale": {"domain": [1980, 2012], "nice": false}, "axis": null}, "x2": {"datum": 2012},
   "y": {"datum": 6.52, "type": "quantitative", "scale": {"domain": [-8.78, 6.52], "nice": false, "zero": false}, "axis": {"orient": "right", "values": [6, 4, 2, 0, -2, -4, -6], "format": "d", "title": null, "domain": false, "ticks": false, "grid": false, "labelFontSize": 9, "labelPadding": 2, "labelOverlap": false, "labelFlush": false, "labelBound": false, "labelAngle": 270, "labelAlign": "center", "labelBaseline": "top"}}, "y2": {"datum": -6.19}}},
 {"data": {"name": "tr"}, "mark": {"type": "line", "stroke": "#9a9a9a", "strokeDash": [2, 2], "strokeWidth": 1.3},
  "encoding": {"x": {"field": "year", "type": "quantitative", "scale": {"domain": [1980, 2012], "nice": false}, "axis": null},
   "y": {"field": "R4", "type": "quantitative", "scale": {"domain": [-8.78, 6.52], "nice": false, "zero": false}, "axis": {"orient": "right", "values": [6, 4, 2, 0, -2, -4, -6], "format": "d", "title": null, "domain": false, "ticks": false, "grid": false, "labelFontSize": 9, "labelPadding": 2, "labelOverlap": false, "labelFlush": false, "labelBound": false, "labelAngle": 270, "labelAlign": "center", "labelBaseline": "top"}}}},
 {"data": {"name": "ts"}, "mark": {"type": "line", "stroke": "#9b1a33", "strokeWidth": 2.7},
  "encoding": {"x": {"field": "year", "type": "quantitative", "scale": {"domain": [1980, 2012], "nice": false}, "axis": null},
   "y": {"field": "R4", "type": "quantitative", "scale": {"domain": [-8.78, 6.52], "nice": false, "zero": false}, "axis": {"orient": "right", "values": [6, 4, 2, 0, -2, -4, -6], "format": "d", "title": null, "domain": false, "ticks": false, "grid": false, "labelFontSize": 9, "labelPadding": 2, "labelOverlap": false, "labelFlush": false, "labelBound": false, "labelAngle": 270, "labelAlign": "center", "labelBaseline": "top"}}}},
 {"data": {"name": "ev"}, "mark": {"type": "rule", "stroke": "#ff0000", "strokeWidth": 3},
  "encoding": {"x": {"field": "year", "type": "quantitative", "scale": {"domain": [1980, 2012], "nice": false}, "axis": null}}}
]},
{"width": 299, "height": 64, "layer": [
 {"data": {"values": [{"year": 1980}]}, "mark": {"type": "rect", "fillOpacity": 0, "stroke": "#8c8c8c", "strokeWidth": 2},
  "encoding": {"x": {"datum": 1980, "type": "quantitative", "scale": {"domain": [1980, 2012], "nice": false}, "axis": null}, "x2": {"datum": 2012},
   "y": {"datum": 4.78, "type": "quantitative", "scale": {"domain": [-5.19, 4.78], "nice": false, "zero": false}, "axis": {"orient": "left", "values": [4, 3, 2, 1, 0, -1, -2, -3], "format": "d", "title": null, "domain": false, "ticks": false, "grid": false, "labelFontSize": 9, "labelPadding": 2, "labelOverlap": false, "labelFlush": false, "labelBound": false, "labelAngle": 270, "labelAlign": "center", "labelBaseline": "bottom"}}, "y2": {"datum": -3.52}}},
 {"data": {"name": "tr"}, "mark": {"type": "line", "stroke": "#9a9a9a", "strokeDash": [2, 2], "strokeWidth": 1.3},
  "encoding": {"x": {"field": "year", "type": "quantitative", "scale": {"domain": [1980, 2012], "nice": false}, "axis": null},
   "y": {"field": "R5", "type": "quantitative", "scale": {"domain": [-5.19, 4.78], "nice": false, "zero": false}, "axis": {"orient": "left", "values": [4, 3, 2, 1, 0, -1, -2, -3], "format": "d", "title": null, "domain": false, "ticks": false, "grid": false, "labelFontSize": 9, "labelPadding": 2, "labelOverlap": false, "labelFlush": false, "labelBound": false, "labelAngle": 270, "labelAlign": "center", "labelBaseline": "bottom"}}}},
 {"data": {"name": "ts"}, "mark": {"type": "line", "stroke": "#f8d98a", "strokeWidth": 2.7},
  "encoding": {"x": {"field": "year", "type": "quantitative", "scale": {"domain": [1980, 2012], "nice": false}, "axis": null},
   "y": {"field": "R5", "type": "quantitative", "scale": {"domain": [-5.19, 4.78], "nice": false, "zero": false}, "axis": {"orient": "left", "values": [4, 3, 2, 1, 0, -1, -2, -3], "format": "d", "title": null, "domain": false, "ticks": false, "grid": false, "labelFontSize": 9, "labelPadding": 2, "labelOverlap": false, "labelFlush": false, "labelBound": false, "labelAngle": 270, "labelAlign": "center", "labelBaseline": "bottom"}}}},
 {"data": {"name": "ev"}, "mark": {"type": "rule", "stroke": "#ff0000", "strokeWidth": 3},
  "encoding": {"x": {"field": "year", "type": "quantitative", "scale": {"domain": [1980, 2012], "nice": false}, "axis": null}}}
]},
{"width": 299, "height": 66, "layer": [
 {"data": {"values": [{"year": 1980}]}, "mark": {"type": "rect", "fillOpacity": 0, "stroke": "#8c8c8c", "strokeWidth": 2},
  "encoding": {"x": {"datum": 1980, "type": "quantitative", "scale": {"domain": [1980, 2012], "nice": false}, "axis": null}, "x2": {"datum": 2012},
   "y": {"datum": 5.51, "type": "quantitative", "scale": {"domain": [-6.28, 5.51], "nice": false, "zero": false}, "axis": {"orient": "right", "values": [5, 4, 3, 2, 1, 0, -1, -2, -3, -4], "format": "d", "title": null, "domain": false, "ticks": false, "grid": false, "labelFontSize": 9, "labelPadding": 2, "labelOverlap": false, "labelFlush": false, "labelBound": false, "labelAngle": 270, "labelAlign": "center", "labelBaseline": "top"}}, "y2": {"datum": -4.18}}},
 {"data": {"name": "tr"}, "mark": {"type": "line", "stroke": "#9a9a9a", "strokeDash": [2, 2], "strokeWidth": 1.3},
  "encoding": {"x": {"field": "year", "type": "quantitative", "scale": {"domain": [1980, 2012], "nice": false}, "axis": null},
   "y": {"field": "R6", "type": "quantitative", "scale": {"domain": [-6.28, 5.51], "nice": false, "zero": false}, "axis": {"orient": "right", "values": [5, 4, 3, 2, 1, 0, -1, -2, -3, -4], "format": "d", "title": null, "domain": false, "ticks": false, "grid": false, "labelFontSize": 9, "labelPadding": 2, "labelOverlap": false, "labelFlush": false, "labelBound": false, "labelAngle": 270, "labelAlign": "center", "labelBaseline": "top"}}}},
 {"data": {"name": "ts"}, "mark": {"type": "line", "stroke": "#23904a", "strokeWidth": 2.7},
  "encoding": {"x": {"field": "year", "type": "quantitative", "scale": {"domain": [1980, 2012], "nice": false}, "axis": null},
   "y": {"field": "R6", "type": "quantitative", "scale": {"domain": [-6.28, 5.51], "nice": false, "zero": false}, "axis": {"orient": "right", "values": [5, 4, 3, 2, 1, 0, -1, -2, -3, -4], "format": "d", "title": null, "domain": false, "ticks": false, "grid": false, "labelFontSize": 9, "labelPadding": 2, "labelOverlap": false, "labelFlush": false, "labelBound": false, "labelAngle": 270, "labelAlign": "center", "labelBaseline": "top"}}}},
 {"data": {"name": "ev"}, "mark": {"type": "rule", "stroke": "#ff0000", "strokeWidth": 3},
  "encoding": {"x": {"field": "year", "type": "quantitative", "scale": {"domain": [1980, 2012], "nice": false}, "axis": null}}}
]},
{"width": 299, "height": 65, "layer": [
 {"data": {"values": [{"year": 1980}]}, "mark": {"type": "rect", "fillOpacity": 0, "stroke": "#8c8c8c", "strokeWidth": 2},
  "encoding": {"x": {"datum": 1980, "type": "quantitative", "scale": {"domain": [1980, 2012], "nice": false}, "axis": null}, "x2": {"datum": 2012},
   "y": {"datum": 3.03, "type": "quantitative", "scale": {"domain": [-4.19, 3.03], "nice": false, "zero": false}, "axis": {"orient": "left", "values": [3, 2, 1, 0, -1, -2, -3], "format": "d", "title": null, "domain": false, "ticks": false, "grid": false, "labelFontSize": 9, "labelPadding": 2, "labelOverlap": false, "labelFlush": false, "labelBound": false, "labelAngle": 270, "labelAlign": "center", "labelBaseline": "bottom"}}, "y2": {"datum": -2.89}}},
 {"data": {"name": "tr"}, "mark": {"type": "line", "stroke": "#9a9a9a", "strokeDash": [2, 2], "strokeWidth": 1.3},
  "encoding": {"x": {"field": "year", "type": "quantitative", "scale": {"domain": [1980, 2012], "nice": false}, "axis": null},
   "y": {"field": "R7", "type": "quantitative", "scale": {"domain": [-4.19, 3.03], "nice": false, "zero": false}, "axis": {"orient": "left", "values": [3, 2, 1, 0, -1, -2, -3], "format": "d", "title": null, "domain": false, "ticks": false, "grid": false, "labelFontSize": 9, "labelPadding": 2, "labelOverlap": false, "labelFlush": false, "labelBound": false, "labelAngle": 270, "labelAlign": "center", "labelBaseline": "bottom"}}}},
 {"data": {"name": "ts"}, "mark": {"type": "line", "stroke": "#f8d98a", "strokeWidth": 2.7},
  "encoding": {"x": {"field": "year", "type": "quantitative", "scale": {"domain": [1980, 2012], "nice": false}, "axis": null},
   "y": {"field": "R7", "type": "quantitative", "scale": {"domain": [-4.19, 3.03], "nice": false, "zero": false}, "axis": {"orient": "left", "values": [3, 2, 1, 0, -1, -2, -3], "format": "d", "title": null, "domain": false, "ticks": false, "grid": false, "labelFontSize": 9, "labelPadding": 2, "labelOverlap": false, "labelFlush": false, "labelBound": false, "labelAngle": 270, "labelAlign": "center", "labelBaseline": "bottom"}}}},
 {"data": {"name": "ev"}, "mark": {"type": "rule", "stroke": "#ff0000", "strokeWidth": 3},
  "encoding": {"x": {"field": "year", "type": "quantitative", "scale": {"domain": [1980, 2012], "nice": false}, "axis": null}}}
]},
{"width": 299, "height": 65, "layer": [
 {"data": {"values": [{"year": 1980}]}, "mark": {"type": "rect", "fillOpacity": 0, "stroke": "#8c8c8c", "strokeWidth": 2},
  "encoding": {"x": {"datum": 1980, "type": "quantitative", "scale": {"domain": [1980, 2012], "nice": false}, "axis": null}, "x2": {"datum": 2012},
   "y": {"datum": 1.99, "type": "quantitative", "scale": {"domain": [-5.31, 1.99], "nice": false, "zero": false}, "axis": {"orient": "right", "values": [2, 1, 0, -1, -2, -3, -4], "format": "d", "title": null, "domain": false, "ticks": false, "grid": false, "labelFontSize": 9, "labelPadding": 2, "labelOverlap": false, "labelFlush": false, "labelBound": false, "labelAngle": 270, "labelAlign": "center", "labelBaseline": "top"}}, "y2": {"datum": -4.0}}},
 {"data": {"name": "tr"}, "mark": {"type": "line", "stroke": "#9a9a9a", "strokeDash": [2, 2], "strokeWidth": 1.3},
  "encoding": {"x": {"field": "year", "type": "quantitative", "scale": {"domain": [1980, 2012], "nice": false}, "axis": null},
   "y": {"field": "R8", "type": "quantitative", "scale": {"domain": [-5.31, 1.99], "nice": false, "zero": false}, "axis": {"orient": "right", "values": [2, 1, 0, -1, -2, -3, -4], "format": "d", "title": null, "domain": false, "ticks": false, "grid": false, "labelFontSize": 9, "labelPadding": 2, "labelOverlap": false, "labelFlush": false, "labelBound": false, "labelAngle": 270, "labelAlign": "center", "labelBaseline": "top"}}}},
 {"data": {"name": "ts"}, "mark": {"type": "line", "stroke": "#9b1a33", "strokeWidth": 2.7},
  "encoding": {"x": {"field": "year", "type": "quantitative", "scale": {"domain": [1980, 2012], "nice": false}, "axis": null},
   "y": {"field": "R8", "type": "quantitative", "scale": {"domain": [-5.31, 1.99], "nice": false, "zero": false}, "axis": {"orient": "right", "values": [2, 1, 0, -1, -2, -3, -4], "format": "d", "title": null, "domain": false, "ticks": false, "grid": false, "labelFontSize": 9, "labelPadding": 2, "labelOverlap": false, "labelFlush": false, "labelBound": false, "labelAngle": 270, "labelAlign": "center", "labelBaseline": "top"}}}},
 {"data": {"name": "ev"}, "mark": {"type": "rule", "stroke": "#ff0000", "strokeWidth": 3},
  "encoding": {"x": {"field": "year", "type": "quantitative", "scale": {"domain": [1980, 2012], "nice": false}, "axis": null}}}
]},
{"width": 299, "height": 63, "layer": [
 {"data": {"values": [{"year": 1980}]}, "mark": {"type": "rect", "fillOpacity": 0, "stroke": "#8c8c8c", "strokeWidth": 2},
  "encoding": {"x": {"datum": 1980, "type": "quantitative", "scale": {"domain": [1980, 2012], "nice": false}, "axis": null}, "x2": {"datum": 2012},
   "y": {"datum": 2.03, "type": "quantitative", "scale": {"domain": [-4.07, 2.03], "nice": false, "zero": false}, "axis": {"orient": "left", "values": [2, 1, 0, -1, -2, -3], "format": "d", "title": null, "domain": false, "ticks": false, "grid": false, "labelFontSize": 11, "labelPadding": 3, "labelOverlap": false, "labelFlush": false, "labelBound": false}}, "y2": {"datum": -3.13}}},
 {"data": {"name": "tr"}, "mark": {"type": "line", "stroke": "#9a9a9a", "strokeDash": [2, 2], "strokeWidth": 1.3},
  "encoding": {"x": {"field": "year", "type": "quantitative", "scale": {"domain": [1980, 2012], "nice": false}, "axis": null},
   "y": {"field": "R9", "type": "quantitative", "scale": {"domain": [-4.07, 2.03], "nice": false, "zero": false}, "axis": {"orient": "left", "values": [2, 1, 0, -1, -2, -3], "format": "d", "title": null, "domain": false, "ticks": false, "grid": false, "labelFontSize": 11, "labelPadding": 3, "labelOverlap": false, "labelFlush": false, "labelBound": false}}}},
 {"data": {"name": "ts"}, "mark": {"type": "line", "stroke": "#8a5bb0", "strokeWidth": 2.7},
  "encoding": {"x": {"field": "year", "type": "quantitative", "scale": {"domain": [1980, 2012], "nice": false}, "axis": null},
   "y": {"field": "R9", "type": "quantitative", "scale": {"domain": [-4.07, 2.03], "nice": false, "zero": false}, "axis": {"orient": "left", "values": [2, 1, 0, -1, -2, -3], "format": "d", "title": null, "domain": false, "ticks": false, "grid": false, "labelFontSize": 11, "labelPadding": 3, "labelOverlap": false, "labelFlush": false, "labelBound": false}}}},
 {"data": {"name": "ev"}, "mark": {"type": "rule", "stroke": "#ff0000", "strokeWidth": 3},
  "encoding": {"x": {"field": "year", "type": "quantitative", "scale": {"domain": [1980, 2012], "nice": false}, "axis": null}}}
]},
{"width": 299, "height": 66, "layer": [
 {"data": {"values": [{"year": 1980}]}, "mark": {"type": "rect", "fillOpacity": 0, "stroke": "#8c8c8c", "strokeWidth": 2},
  "encoding": {"x": {"datum": 1980, "type": "quantitative", "scale": {"domain": [1980, 2012], "nice": false}, "axis": null}, "x2": {"datum": 2012},
   "y": {"datum": 3.29, "type": "quantitative", "scale": {"domain": [-4.6, 3.29], "nice": false, "zero": false}, "axis": {"orient": "right", "values": [3, 2, 1, 0, -1, -2, -3], "format": "d", "title": null, "domain": false, "ticks": false, "grid": false, "labelFontSize": 9, "labelPadding": 2, "labelOverlap": false, "labelFlush": false, "labelBound": false, "labelAngle": 270, "labelAlign": "center", "labelBaseline": "top"}}, "y2": {"datum": -3.19}}},
 {"data": {"name": "tr"}, "mark": {"type": "line", "stroke": "#9a9a9a", "strokeDash": [2, 2], "strokeWidth": 1.3},
  "encoding": {"x": {"field": "year", "type": "quantitative", "scale": {"domain": [1980, 2012], "nice": false}, "axis": null},
   "y": {"field": "R10", "type": "quantitative", "scale": {"domain": [-4.6, 3.29], "nice": false, "zero": false}, "axis": {"orient": "right", "values": [3, 2, 1, 0, -1, -2, -3], "format": "d", "title": null, "domain": false, "ticks": false, "grid": false, "labelFontSize": 9, "labelPadding": 2, "labelOverlap": false, "labelFlush": false, "labelBound": false, "labelAngle": 270, "labelAlign": "center", "labelBaseline": "top"}}}},
 {"data": {"name": "ts"}, "mark": {"type": "line", "stroke": "#2166ac", "strokeWidth": 2.7},
  "encoding": {"x": {"field": "year", "type": "quantitative", "scale": {"domain": [1980, 2012], "nice": false}, "axis": null},
   "y": {"field": "R10", "type": "quantitative", "scale": {"domain": [-4.6, 3.29], "nice": false, "zero": false}, "axis": {"orient": "right", "values": [3, 2, 1, 0, -1, -2, -3], "format": "d", "title": null, "domain": false, "ticks": false, "grid": false, "labelFontSize": 9, "labelPadding": 2, "labelOverlap": false, "labelFlush": false, "labelBound": false, "labelAngle": 270, "labelAlign": "center", "labelBaseline": "top"}}}},
 {"data": {"name": "ev"}, "mark": {"type": "rule", "stroke": "#ff0000", "strokeWidth": 3},
  "encoding": {"x": {"field": "year", "type": "quantitative", "scale": {"domain": [1980, 2012], "nice": false}, "axis": null}}}
]},
{"width": 299, "height": 54, "layer": [
 {"data": {"values": [{"year": 1980}]}, "mark": {"type": "rect", "fillOpacity": 0, "stroke": "#8c8c8c", "strokeWidth": 2},
  "encoding": {"x": {"datum": 1980, "type": "quantitative", "scale": {"domain": [1980, 2012], "nice": false}, "axis": {"values": [1980, 1985, 1990, 1995, 2000, 2005, 2010], "format": "d", "title": null, "domain": false, "ticks": false, "grid": false, "labelFontSize": 11, "labelPadding": 3, "labelFlush": false, "labelOverlap": false}}, "x2": {"datum": 2012},
   "y": {"datum": 5.0, "type": "quantitative", "scale": {"domain": [-10.8, 5.0], "nice": false, "zero": false}, "axis": {"orient": "left", "values": [4, 2, 0, -2, -4, -6, -8, -10], "format": "d", "title": null, "domain": false, "ticks": false, "grid": false, "labelFontSize": 9, "labelPadding": 2, "labelOverlap": false, "labelFlush": false, "labelBound": false, "labelAngle": 270, "labelAlign": "center", "labelBaseline": "bottom"}}, "y2": {"datum": -10.8}}},
 {"data": {"name": "tr"}, "mark": {"type": "line", "stroke": "#9a9a9a", "strokeDash": [2, 2], "strokeWidth": 1.3},
  "encoding": {"x": {"field": "year", "type": "quantitative", "scale": {"domain": [1980, 2012], "nice": false}, "axis": {"values": [1980, 1985, 1990, 1995, 2000, 2005, 2010], "format": "d", "title": null, "domain": false, "ticks": false, "grid": false, "labelFontSize": 11, "labelPadding": 3, "labelFlush": false, "labelOverlap": false}},
   "y": {"field": "R11", "type": "quantitative", "scale": {"domain": [-10.8, 5.0], "nice": false, "zero": false}, "axis": {"orient": "left", "values": [4, 2, 0, -2, -4, -6, -8, -10], "format": "d", "title": null, "domain": false, "ticks": false, "grid": false, "labelFontSize": 9, "labelPadding": 2, "labelOverlap": false, "labelFlush": false, "labelBound": false, "labelAngle": 270, "labelAlign": "center", "labelBaseline": "bottom"}}}},
 {"data": {"name": "ts"}, "mark": {"type": "line", "stroke": "#96c4df", "strokeWidth": 2.7},
  "encoding": {"x": {"field": "year", "type": "quantitative", "scale": {"domain": [1980, 2012], "nice": false}, "axis": {"values": [1980, 1985, 1990, 1995, 2000, 2005, 2010], "format": "d", "title": null, "domain": false, "ticks": false, "grid": false, "labelFontSize": 11, "labelPadding": 3, "labelFlush": false, "labelOverlap": false}},
   "y": {"field": "R11", "type": "quantitative", "scale": {"domain": [-10.8, 5.0], "nice": false, "zero": false}, "axis": {"orient": "left", "values": [4, 2, 0, -2, -4, -6, -8, -10], "format": "d", "title": null, "domain": false, "ticks": false, "grid": false, "labelFontSize": 9, "labelPadding": 2, "labelOverlap": false, "labelFlush": false, "labelBound": false, "labelAngle": 270, "labelAlign": "center", "labelBaseline": "bottom"}}}},
 {"data": {"name": "ev"}, "mark": {"type": "rule", "stroke": "#ff0000", "strokeWidth": 3},
  "encoding": {"x": {"field": "year", "type": "quantitative", "scale": {"domain": [1980, 2012], "nice": false}, "axis": {"values": [1980, 1985, 1990, 1995, 2000, 2005, 2010], "format": "d", "title": null, "domain": false, "ticks": false, "grid": false, "labelFontSize": 11, "labelPadding": 3, "labelFlush": false, "labelOverlap": false}}}}
]},
{"width": 333, "height": 142, "layer": [
 {"data": {"name": "gy"}, "mark": {"type": "rule", "stroke": "#e8e8e8", "strokeWidth": 1},
  "encoding": {"x": {"field": "year", "type": "quantitative", "scale": {"domain": [1980, 2015.65], "nice": false}, "axis": null},
   "y": {"datum": 3.05, "type": "quantitative", "scale": {"domain": [-1.7, 7.01], "nice": false, "zero": false}, "axis": {"values": [-1, 0, 1, 2, 3], "grid": true, "gridColor": "#e8e8e8", "labels": false, "ticks": false, "domain": false, "title": null}}, "y2": {"datum": -1.7}}},
 {"data": {"name": "nino"}, "mark": {"type": "bar", "width": 2.7, "clip": true},
  "encoding": {"x": {"field": "year", "type": "quantitative", "scale": {"domain": [1980, 2015.65], "nice": false}, "axis": null},
   "y": {"field": "v", "type": "quantitative", "scale": {"domain": [-1.7, 7.01], "nice": false, "zero": false}, "axis": {"values": [-1, 0, 1, 2, 3], "grid": true, "gridColor": "#e8e8e8", "labels": false, "ticks": false, "domain": false, "title": null}}, "y2": {"datum": 0},
   "color": {"condition": {"test": "datum.v > 0", "value": "#fb5656"}, "value": "#2e6deb"}}},
 {"data": {"name": "ev"}, "mark": {"type": "rule", "stroke": "#ff0000", "strokeWidth": 3},
  "encoding": {"x": {"field": "year", "type": "quantitative", "scale": {"domain": [1980, 2015.65], "nice": false}, "axis": null},
   "y": {"datum": 7.01, "type": "quantitative", "scale": {"domain": [-1.7, 7.01], "nice": false, "zero": false}, "axis": {"values": [-1, 0, 1, 2, 3], "grid": true, "gridColor": "#e8e8e8", "labels": false, "ticks": false, "domain": false, "title": null}}, "y2": {"datum": -1.7}}},
 {"data": {"name": "ev"}, "mark": {"type": "text", "angle": 270, "align": "left", "baseline": "bottom", "fontSize": 14, "font": "DejaVu Sans", "color": "#000000"},
  "encoding": {"x": {"field": "year", "type": "quantitative", "scale": {"domain": [1980, 2015.65], "nice": false}, "axis": null},
   "y": {"datum": 3.15, "type": "quantitative", "scale": {"domain": [-1.7, 7.01], "nice": false, "zero": false}, "axis": {"values": [-1, 0, 1, 2, 3], "grid": true, "gridColor": "#e8e8e8", "labels": false, "ticks": false, "domain": false, "title": null}}, "text": {"field": "label"}}},
 {"data": {"values": [{"s": "EX"}]}, "mark": {"type": "text", "align": "left", "baseline": "middle", "fontSize": 12, "font": "DejaVu Serif", "color": "#444444"},
  "encoding": {"x": {"datum": 1979.2, "type": "quantitative", "scale": {"domain": [1980, 2015.65], "nice": false}, "axis": null},
   "y": {"datum": 3.0, "type": "quantitative", "scale": {"domain": [-1.7, 7.01], "nice": false, "zero": false}, "axis": {"values": [-1, 0, 1, 2, 3], "grid": true, "gridColor": "#e8e8e8", "labels": false, "ticks": false, "domain": false, "title": null}}, "text": {"field": "s"}}},
 {"data": {"values": [{"s": "Niño3.4"}]}, "mark": {"type": "text", "align": "left", "baseline": "alphabetic", "fontSize": 26, "font": "Open Sans", "color": "#111111"},
  "encoding": {"x": {"datum": 1981.5, "type": "quantitative", "scale": {"domain": [1980, 2015.65], "nice": false}, "axis": null},
   "y": {"datum": -3.5, "type": "quantitative", "scale": {"domain": [-1.7, 7.01], "nice": false, "zero": false}, "axis": {"values": [-1, 0, 1, 2, 3], "grid": true, "gridColor": "#e8e8e8", "labels": false, "ticks": false, "domain": false, "title": null}}, "text": {"field": "s"}}}
]}
]
}
]
}
